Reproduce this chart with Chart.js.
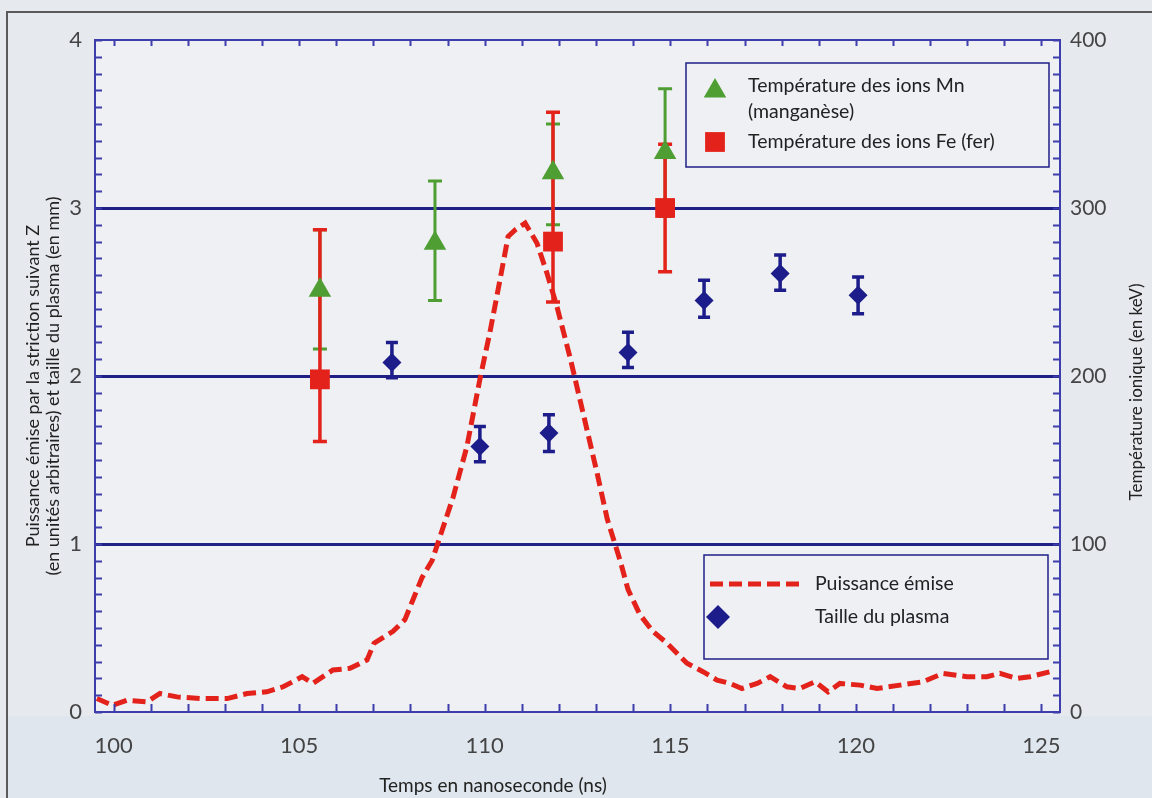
<!DOCTYPE html>
<html lang="fr">
<head>
<meta charset="utf-8">
<title>Puissance émise et température ionique</title>
<script src="https://cdn.jsdelivr.net/npm/chart.js@4.4.1/dist/chart.umd.min.js"></script>
<style>
  html, body { margin: 0; padding: 0; background: #e6eaef; }
  #wrap { width: 1152px; height: 798px; }
</style>
</head>
<body>
<div id="wrap"><canvas id="pinchChart" width="1152" height="798"></canvas></div>
<script>
// tick labels
const timeTicks = [100, 105, 110, 115, 120, 125];
const sizeTicks = [0, 1, 2, 3, 4];
const tempTicks = [0, 100, 200, 300, 400];

// puissance émise (unités arbitraires), axe de gauche
const powerTime = [99.55, 99.96, 100.36, 100.90, 101.25, 101.71, 102.33, 103.06, 103.60, 104.13,
  104.57, 105.08, 105.37, 105.91, 106.37, 106.83, 107.02, 107.53, 107.85, 108.07,
  108.31, 108.58, 109.15, 109.52, 109.87, 110.14, 110.41, 110.63, 110.82, 111.09,
  111.41, 111.68, 111.95, 112.30, 112.65, 113.03, 113.30, 113.65, 113.86, 114.18,
  114.53, 114.91, 115.45, 115.88, 116.26, 116.61, 116.93, 117.34, 117.69, 118.14,
  118.49, 118.90, 119.25, 119.57, 120.11, 120.57, 121.19, 121.81, 122.35, 122.99,
  123.53, 123.88, 124.34, 124.69, 125.23];
const powerValue = [0.08, 0.04, 0.07, 0.06, 0.11, 0.09, 0.08, 0.08, 0.11, 0.12,
  0.15, 0.21, 0.17, 0.25, 0.26, 0.31, 0.41, 0.48, 0.55, 0.67,
  0.80, 0.90, 1.28, 1.58, 1.98, 2.26, 2.57, 2.83, 2.87, 2.91,
  2.79, 2.61, 2.41, 2.11, 1.78, 1.42, 1.15, 0.90, 0.73, 0.58,
  0.48, 0.41, 0.29, 0.24, 0.19, 0.17, 0.14, 0.17, 0.21, 0.15,
  0.14, 0.18, 0.12, 0.17, 0.16, 0.14, 0.16, 0.18, 0.23, 0.21,
  0.21, 0.23, 0.20, 0.21, 0.24];

// taille du plasma (mm), axe de gauche
const plasmaTime = [107.50, 109.87, 111.73, 113.86, 115.91, 117.96, 120.06];
const plasmaSize = [2.08, 1.58, 1.66, 2.14, 2.45, 2.61, 2.48];
const plasmaLow  = [1.99, 1.49, 1.55, 2.05, 2.35, 2.51, 2.37];
const plasmaHigh = [2.20, 1.70, 1.77, 2.26, 2.57, 2.72, 2.59];

// température des ions Mn (keV), axe de droite
const mnTime = [105.56, 108.66, 111.84, 114.86];
const mnTemp = [251, 279, 321, 333];
const mnLow  = [216, 245, 290, 295];
const mnHigh = [287, 316, 350, 371];

// température des ions Fe (keV), axe de droite
const feTime = [105.56, 111.84, 114.86];
const feTemp = [198, 280, 300];
const feLow  = [161, 244, 262];
const feHigh = [287, 357, 338];

const FONT = 'Lato, "Open Sans", "DejaVu Sans", sans-serif';
const NAVY = '#1f1f86';
const AXIS = '#3d3dab';
const RED = '#e3231b';
const GREEN = '#4f9e33';
const BLUE = '#1c1c8a';
const TEXT = '#222222';

const pts = (xs, ys) => xs.map((x, i) => ({ x: x, y: ys[i] }));

function steps(min, max, step) {
  const out = [];
  for (let i = 0; min + i * step <= max + 1e-9; i++) out.push(min + i * step);
  return out;
}

function shape(ctx, style, x, y, r, color) {
  ctx.save();
  ctx.fillStyle = color;
  ctx.beginPath();
  if (style === 'triangle') {
    ctx.moveTo(x, y - r);
    ctx.lineTo(x + r * 0.866, y + r * 0.5);
    ctx.lineTo(x - r * 0.866, y + r * 0.5);
  } else if (style === 'rect') {
    const s = r * Math.SQRT1_2;
    ctx.rect(x - s, y - s, 2 * s, 2 * s);
  } else {
    ctx.moveTo(x, y - r); ctx.lineTo(x + r, y); ctx.lineTo(x, y + r); ctx.lineTo(x - r, y);
  }
  ctx.closePath();
  ctx.fill();
  ctx.restore();
}

const errorBars = {
  id: 'errorBars',
  beforeDatasetsDraw(chart) {
    const ctx = chart.ctx;
    const x = chart.scales.x;
    const sets = [
      { t: mnTime, lo: mnLow, hi: mnHigh, axis: chart.scales.y2, color: GREEN, w: 3, cap: 7 },
      { t: feTime, lo: feLow, hi: feHigh, axis: chart.scales.y2, color: RED, w: 3.5, cap: 7 },
      { t: plasmaTime, lo: plasmaLow, hi: plasmaHigh, axis: chart.scales.y, color: BLUE, w: 3.5, cap: 6 }
    ];
    ctx.save();
    sets.forEach(s => {
      ctx.strokeStyle = s.color;
      ctx.lineWidth = s.w;
      s.t.forEach((t, i) => {
        const px = x.getPixelForValue(t);
        const y1 = s.axis.getPixelForValue(s.lo[i]);
        const y2 = s.axis.getPixelForValue(s.hi[i]);
        ctx.beginPath();
        ctx.moveTo(px, y1); ctx.lineTo(px, y2);
        ctx.moveTo(px - s.cap, y1); ctx.lineTo(px + s.cap, y1);
        ctx.moveTo(px - s.cap, y2); ctx.lineTo(px + s.cap, y2);
        ctx.stroke();
      });
    });
    ctx.restore();
  }
};

const decor = {
  id: 'decor',
  beforeDraw(chart) {
    const ctx = chart.ctx;
    const a = chart.chartArea;
    ctx.save();
    ctx.fillStyle = '#e6eaef';
    ctx.fillRect(0, 0, chart.width, chart.height);
    ctx.fillStyle = '#dfe6ed';
    ctx.fillRect(8, a.bottom + 4, chart.width - 8, chart.height - a.bottom);
    ctx.fillStyle = '#eef0f3';
    ctx.fillRect(a.left, a.top, a.right - a.left, a.bottom - a.top);
    ctx.strokeStyle = '#5a5a5a';
    ctx.lineWidth = 2;
    ctx.beginPath();
    ctx.moveTo(7, chart.height); ctx.lineTo(7, 12); ctx.lineTo(chart.width, 12);
    ctx.stroke();
    ctx.restore();
  },
  afterDraw(chart) {
    const ctx = chart.ctx;
    const a = chart.chartArea;
    const x = chart.scales.x, y = chart.scales.y, y2 = chart.scales.y2;
    ctx.save();
    // inward ticks
    ctx.strokeStyle = AXIS;
    ctx.lineWidth = 2;
    ctx.beginPath();
    steps(0, 4, 0.1).forEach(v => {
      const py = Math.round(y.getPixelForValue(v)) + 0.5;
      ctx.moveTo(a.left, py); ctx.lineTo(a.left + 7, py);
    });
    steps(0, 400, 10).forEach(v => {
      const py = Math.round(y2.getPixelForValue(v)) + 0.5;
      ctx.moveTo(a.right, py); ctx.lineTo(a.right - 7, py);
    });
    steps(100, 125, 1).forEach(v => {
      const px = Math.round(x.getPixelForValue(v)) + 0.5;
      ctx.moveTo(px, a.top); ctx.lineTo(px, a.top + 6);
      ctx.moveTo(px, a.bottom); ctx.lineTo(px, a.bottom - 8);
    });
    ctx.stroke();
    // frame
    ctx.strokeRect(a.left, a.top, a.right - a.left, a.bottom - a.top);

    // legend boxes
    ctx.strokeStyle = NAVY;
    ctx.lineWidth = 1.5;
    ctx.fillStyle = '#eef0f4';
    const b1 = { l: a.right - 374, t: a.top + 23, w: 363, h: 104 };
    const b2 = { l: a.right - 356, t: a.top + 515, w: 344, h: 104 };
    [b1, b2].forEach(b => { ctx.fillRect(b.l, b.t, b.w, b.h); ctx.strokeRect(b.l, b.t, b.w, b.h); });

    const ds = chart.data.datasets;
    ctx.font = '19.5px ' + FONT;
    ctx.textBaseline = 'middle';
    ctx.textAlign = 'left';
    shape(ctx, 'triangle', b1.l + 29, b1.t + 28, 13, ds[0].backgroundColor);
    ctx.fillStyle = TEXT;
    ds[0].label.forEach((line, i) => ctx.fillText(line, b1.l + 62, b1.t + 23 + i * 26));
    shape(ctx, 'rect', b1.l + 29, b1.t + 79, 14, ds[1].backgroundColor);
    ctx.fillStyle = TEXT;
    ctx.fillText(ds[1].label, b1.l + 62, b1.t + 79);

    ctx.save();
    ctx.strokeStyle = ds[3].borderColor;
    ctx.lineWidth = ds[3].borderWidth;
    ctx.setLineDash(ds[3].borderDash);
    ctx.beginPath();
    ctx.moveTo(b2.l + 6, b2.t + 29); ctx.lineTo(b2.l + 100, b2.t + 29);
    ctx.stroke();
    ctx.restore();
    ctx.fillStyle = TEXT;
    ctx.fillText(ds[3].label, b2.l + 111, b2.t + 29);
    shape(ctx, 'rectRot', b2.l + 14, b2.t + 62, 12, ds[2].backgroundColor);
    ctx.fillStyle = TEXT;
    ctx.fillText(ds[2].label, b2.l + 111, b2.t + 62);

    // axis titles
    ctx.font = '18px ' + FONT;
    ctx.textAlign = 'center';
    const titleLeft = ['Puissance émise par la striction suivant Z',
      '(en unités arbitraires) et taille du plasma (en mm)'];
    [33, 53].forEach((tx, i) => {
      ctx.save();
      ctx.translate(tx, 386);
      ctx.rotate(-Math.PI / 2);
      ctx.fillText(titleLeft[i], 0, 0);
      ctx.restore();
    });
    ctx.save();
    ctx.translate(1137, 392);
    ctx.rotate(-Math.PI / 2);
    ctx.font = '17px ' + FONT;
    ctx.fillText('Température ionique (en keV)', 0, 0);
    ctx.restore();
    ctx.font = '19px ' + FONT;
    ctx.fillText('Temps en nanoseconde (ns)', 493, 786);
    ctx.restore();
  }
};

new Chart(document.getElementById('pinchChart'), {
  type: 'scatter',
  data: {
    datasets: [
      {
        label: ['Température des ions Mn', '(manganèse)'],
        data: pts(mnTime, mnTemp),
        yAxisID: 'y2',
        pointStyle: 'triangle',
        pointRadius: 13,
        backgroundColor: GREEN,
        borderWidth: 0
      },
      {
        label: 'Température des ions Fe (fer)',
        data: pts(feTime, feTemp),
        yAxisID: 'y2',
        pointStyle: 'rect',
        pointRadius: 14,
        backgroundColor: RED,
        borderWidth: 0
      },
      {
        label: 'Taille du plasma',
        data: pts(plasmaTime, plasmaSize),
        yAxisID: 'y',
        pointStyle: 'rectRot',
        pointRadius: 9.5,
        backgroundColor: BLUE,
        borderWidth: 0
      },
      {
        label: 'Puissance émise',
        data: pts(powerTime, powerValue),
        yAxisID: 'y',
        showLine: true,
        pointRadius: 0,
        borderColor: RED,
        borderWidth: 5,
        borderDash: [13, 6],
        tension: 0
      }
    ]
  },
  options: {
    responsive: false,
    animation: false,
    events: [],
    layout: { padding: { top: 40, left: 0, right: 0, bottom: 0 } },
    plugins: { legend: { display: false }, tooltip: { enabled: false } },
    scales: {
      x: {
        type: 'linear',
        min: 99.5,
        max: 125.5,
        afterBuildTicks: s => { s.ticks = timeTicks.map(v => ({ value: v })); },
        afterFit: s => { s.height = 86; },
        grid: { display: false, drawTicks: false },
        border: { display: false },
        ticks: { padding: 21, color: '#444444', font: { family: FONT, size: 22 } }
      },
      y: {
        position: 'left',
        min: 0,
        max: 4,
        afterBuildTicks: s => { s.ticks = sizeTicks.map(v => ({ value: v })); },
        afterFit: s => { s.width = 95; },
        grid: {
          drawTicks: false,
          color: c => (c.tick.value > 0 && c.tick.value < 4) ? NAVY : 'rgba(0,0,0,0)',
          lineWidth: 3
        },
        border: { display: false },
        ticks: { padding: 13, color: '#444444', font: { family: FONT, size: 22 } }
      },
      y2: {
        position: 'right',
        min: 0,
        max: 400,
        afterBuildTicks: s => { s.ticks = tempTicks.map(v => ({ value: v })); },
        afterFit: s => { s.width = 92; },
        grid: { drawOnChartArea: false, drawTicks: false },
        border: { display: false },
        ticks: { padding: 10, color: '#444444', font: { family: FONT, size: 21 } }
      }
    }
  },
  plugins: [decor, errorBars]
});
</script>
</body>
</html>
